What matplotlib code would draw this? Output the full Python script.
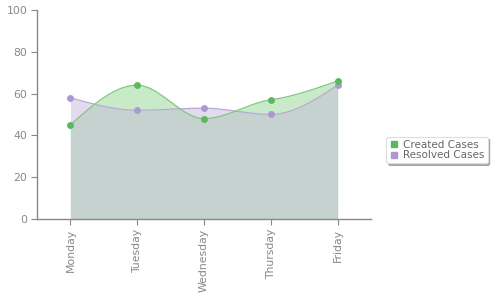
import numpy as np
import matplotlib
matplotlib.use("Agg")
import matplotlib.pyplot as plt
from matplotlib.lines import Line2D

# chart data
days = ["Monday", "Tuesday", "Wednesday", "Thursday", "Friday"]
created = [45, 64, 48, 57, 66]
resolved = [58, 52, 53, 50, 64]


def monotone_curve(x, y, n=40):
    # monotone cubic hermite (like d3 curveMonotoneX), for drawing only
    x = np.asarray(x, float)
    y = np.asarray(y, float)
    h = np.diff(x)
    d = np.diff(y) / h
    m = np.zeros_like(y)
    for i in range(1, len(y) - 1):
        if d[i - 1] * d[i] <= 0:
            m[i] = 0
        else:
            p = (d[i - 1] * h[i] + d[i] * h[i - 1]) / (h[i - 1] + h[i])
            m[i] = np.sign(d[i]) * min(abs(d[i - 1]), abs(d[i]), 0.5 * abs(p))
    m[0] = (3 * d[0] - m[1]) / 2
    m[-1] = (3 * d[-1] - m[-2]) / 2
    xs, ys = [], []
    for i in range(len(h)):
        t = np.linspace(0, 1, n, endpoint=(i == len(h) - 1))
        h00 = 2 * t**3 - 3 * t**2 + 1
        h10 = t**3 - 2 * t**2 + t
        h01 = -2 * t**3 + 3 * t**2
        h11 = t**3 - t**2
        xs.append(x[i] + t * h[i])
        ys.append(h00 * y[i] + h10 * h[i] * m[i] + h01 * y[i + 1] + h11 * h[i] * m[i + 1])
    return np.concatenate(xs), np.concatenate(ys)


xpos = np.arange(len(days))
cx, cy = monotone_curve(xpos, created)
rx, ry = monotone_curve(xpos, resolved)

green_line = "#7dc87d"
green_dot = "#5cb85c"
purple_line = "#b8a8d4"
purple_dot = "#ac98d2"
axis_col = "#888888"
text_col = "#888888"

fig = plt.figure(figsize=(5, 3), dpi=100)
ax = fig.add_axes([0.074, 0.27, 0.668, 0.697])

ax.fill_between(rx, 0, ry, color="#e2dbed", lw=0)
ax.fill_between(cx, 0, cy, color="#c9eac9", lw=0)
ax.fill_between(cx, 0, np.minimum(cy, ry), color="#c5d2cf", lw=0)

ax.plot(rx, ry, color=purple_line, lw=0.9)
ax.plot(cx, cy, color=green_line, lw=0.9)
ax.plot(xpos, resolved, "o", color=purple_dot, ms=5, mec="none")
ax.plot(xpos, created, "o", color=green_dot, ms=5, mec="none")

ax.set_xlim(-0.5, len(days) - 0.5)
ax.set_ylim(0, 100)
ax.set_yticks([0, 20, 40, 60, 80, 100])
ax.set_xticks(xpos)
ax.set_xticklabels(days, rotation=90)

for s in ["top", "right"]:
    ax.spines[s].set_visible(False)
for s in ["left", "bottom"]:
    ax.spines[s].set_color(axis_col)
    ax.spines[s].set_linewidth(1)
ax.tick_params(colors=axis_col, labelcolor=text_col, labelsize=7.8,
               length=4, width=0.8, pad=3)

handles = [
    Line2D([], [], marker="s", ls="none", color=green_dot, ms=4),
    Line2D([], [], marker="s", ls="none", color=purple_dot, ms=4),
]
leg = fig.legend(handles, ["Created Cases", "Resolved Cases"],
                 loc="center", bbox_to_anchor=(0.874, 0.5),
                 fontsize=7.5, frameon=True, fancybox=True,
                 shadow={"color": "#999999", "alpha": 0.8, "ox": 1.5, "oy": -1.5},
                 handlelength=0.8, handletextpad=0.5, borderpad=0.3,
                 labelspacing=0.05)
for t in leg.get_texts():
    t.set_color("#666666")
leg.get_frame().set_edgecolor("#dddddd")
leg.get_frame().set_linewidth(0.8)

fig.savefig("out.png", dpi=100)
